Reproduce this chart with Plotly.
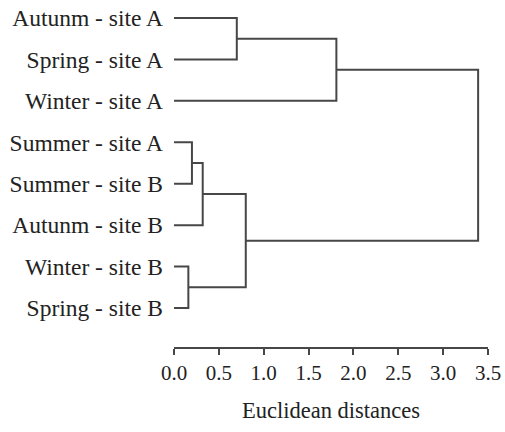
import plotly.graph_objects as go

# leaf order, top to bottom
leaves = ["Autunm - site A", "Spring - site A", "Winter - site A",
          "Summer - site A", "Summer - site B", "Autunm - site B",
          "Winter - site B", "Spring - site B"]

# merges: (left node, right node, distance); new nodes get ids 8, 9, ...
merge_left = [0, 8, 3, 10, 6, 11, 9]
merge_right = [1, 2, 4, 5, 7, 12, 13]
merge_dist = [0.70, 1.81, 0.20, 0.32, 0.16, 0.80, 3.39]

ticks = [0.0, 0.5, 1.0, 1.5, 2.0, 2.5, 3.0, 3.5]

# build the dendrogram links
pos = {i: (0.0, float(i)) for i in range(len(leaves))}
xs, ys = [], []
for k, (a, b, d) in enumerate(zip(merge_left, merge_right, merge_dist)):
    ha, ya = pos[a]
    hb, yb = pos[b]
    xs += [ha, d, d, hb, None]
    ys += [ya, ya, yb, yb, None]
    pos[len(leaves) + k] = (d, (ya + yb) / 2)

fig = go.Figure(go.Scatter(x=xs, y=ys, mode="lines",
                           line=dict(color="#474747", width=2),
                           hoverinfo="skip", showlegend=False))

serif = "Liberation Serif, Times New Roman, serif"

fig.update_layout(
    width=505, height=432,
    margin=dict(l=174, r=17, t=2, b=85),
    plot_bgcolor="white", paper_bgcolor="white",
    font=dict(family=serif, size=23.5, color="#222"),
    xaxis=dict(range=[0, 3.5], tickvals=ticks,
               ticktext=["%.1f" % t for t in ticks],
               tickfont=dict(size=21),
               showline=True, linecolor="#474747", linewidth=2,
               ticks="outside", ticklen=6, tickwidth=2, tickcolor="#474747",
               showgrid=False, zeroline=False, automargin=False,
               title=dict(text="Euclidean distances", font=dict(size=22.5),
                          standoff=18)),
    yaxis=dict(range=[7.94, -0.386], tickvals=list(range(len(leaves))),
               ticktext=leaves, showgrid=False, zeroline=False,
               showline=False, ticks="", ticklabelstandoff=10,
               automargin=False),
)

fig.write_html("out.html", config={"displayModeBar": False},
               post_script="document.body.style.margin='0';")
